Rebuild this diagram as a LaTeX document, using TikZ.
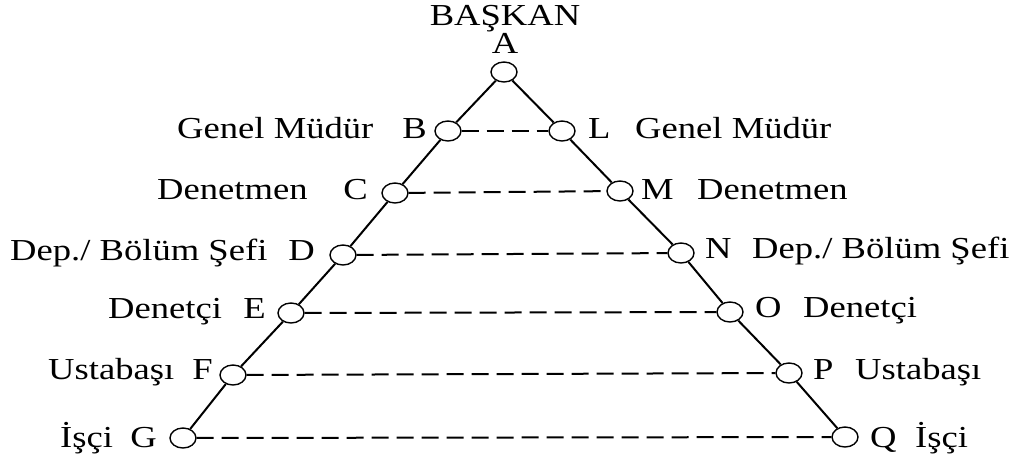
\documentclass[tikz,border=0pt]{standalone}
\usepackage{fontspec}
\setmainfont[FakeStretch=1.2]{Liberation Serif}
\usetikzlibrary{shapes.geometric}
\begin{document}
\begin{tikzpicture}[x=1pt,y=-1pt,
  pt/.style={ellipse,draw,line width=1.4pt,minimum width=26pt,minimum height=20pt,inner sep=0pt},
  lbl/.style={inner sep=0pt,font=\fontsize{30.5}{30.5}\selectfont},
  edge/.style={line width=2pt},
  rung/.style={line width=2pt,dash pattern=on 17pt off 8pt}]
\useasboundingbox (0,0) rectangle (1022,459);
% points
\node[pt] (A) at (504,72) {};
\node[pt] (B) at (448,131) {};
\node[pt] (L) at (562,131) {};
\node[pt] (C) at (395,193) {};
\node[pt] (M) at (620,191) {};
\node[pt] (D) at (343,255) {};
\node[pt] (N) at (681,253) {};
\node[pt] (E) at (291,313) {};
\node[pt] (O) at (730,312) {};
\node[pt] (F) at (233,375) {};
\node[pt] (P) at (789,373) {};
\node[pt] (G) at (183,438) {};
\node[pt] (Q) at (845,437) {};
% sides
\draw[edge] (A) -- (B) -- (C) -- (D) -- (E) -- (F) -- (G);
\draw[edge] (A) -- (L) -- (M) -- (N) -- (O) -- (P) -- (Q);
% rungs
\draw[rung] (B) -- (L);
\draw[rung] (C) -- (M);
\draw[rung] (D) -- (N);
\draw[rung] (E) -- (O);
\draw[rung] (F) -- (P);
\draw[rung] (G) -- (Q);
% top labels
\node[lbl,anchor=base] (tbaskan) at (505,25) {BAŞKAN};
\node[lbl,anchor=base] (tA) at (505,53) {A};
% left letters
\node[lbl,anchor=base east] (tB) at (427,138) {B};
\node[lbl,anchor=base east] (tC) at (368,199) {C};
\node[lbl,anchor=base east] (tD) at (315,260) {D};
\node[lbl,anchor=base east] (tE) at (266,318) {E};
\node[lbl,anchor=base east] (tF) at (213,379) {F};
\node[lbl,anchor=base east] (tG) at (157,447) {G};
% left names
\node[lbl,anchor=base west] (nB) at (177,138) {Genel Müdür};
\node[lbl,anchor=base west] (nC) at (157,199) {Denetmen};
\node[lbl,anchor=base west] (nD) at (10,260) {Dep./ Bölüm Şefi};
\node[lbl,anchor=base west] (nE) at (108,318) {Denetçi};
\node[lbl,anchor=base west] (nF) at (48,379) {Ustabaşı};
\node[lbl,anchor=base west] (nG) at (60,447) {İşçi};
% right letters
\node[lbl,anchor=base west] (tL) at (588,138) {L};
\node[lbl,anchor=base west] (tM) at (641,199) {M};
\node[lbl,anchor=base west] (tN) at (705,258) {N};
\node[lbl,anchor=base west] (tO) at (755,317) {O};
\node[lbl,anchor=base west] (tP) at (813,379) {P};
\node[lbl,anchor=base west] (tQ) at (870,447) {Q};
% right names
\node[lbl,anchor=base west] (nL) at (635,138) {Genel Müdür};
\node[lbl,anchor=base west] (nM) at (697,199) {Denetmen};
\node[lbl,anchor=base west] (nN) at (752,258) {Dep./ Bölüm Şefi};
\node[lbl,anchor=base west] (nO) at (803,317) {Denetçi};
\node[lbl,anchor=base west] (nP) at (855,379) {Ustabaşı};
\node[lbl,anchor=base west] (nQ) at (915,447) {İşçi};
\end{tikzpicture}
\end{document}
